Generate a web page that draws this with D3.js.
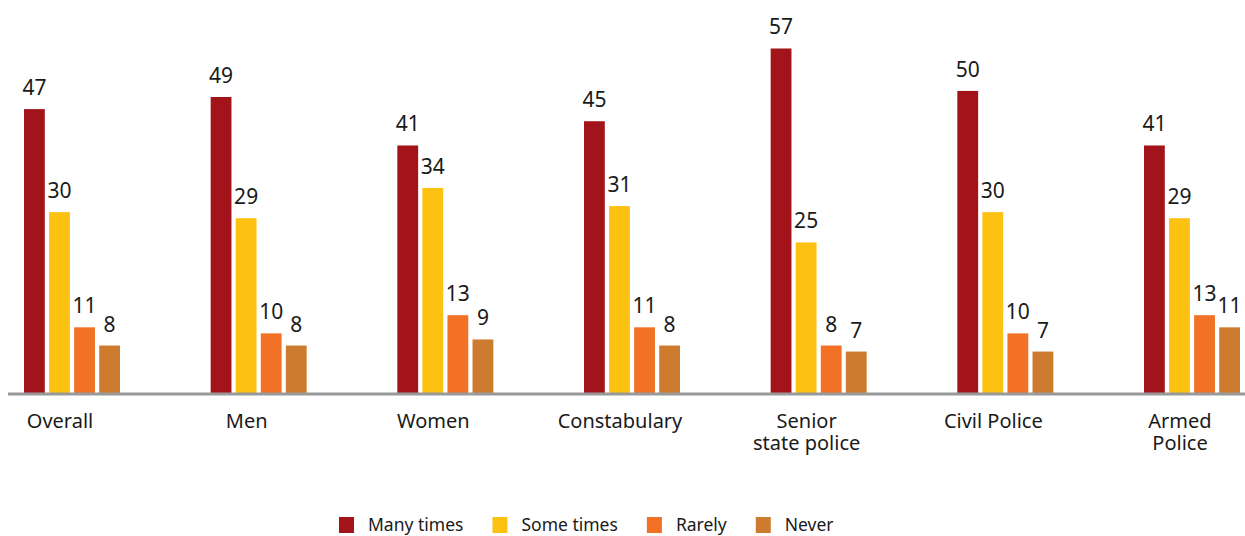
<!DOCTYPE html>
<html>
<head>
<meta charset="utf-8">
<script src="https://cdn.jsdelivr.net/npm/d3@7/dist/d3.min.js"></script>
<style>
  html, body { margin: 0; padding: 0; background: #fff; }
  svg { display: block; font-family: "Noto Sans", "DejaVu Sans", sans-serif; }
</style>
</head>
<body>
<svg id="chart" width="1245" height="536"></svg>
<script>
const categories = ["Overall", "Men", "Women", "Constabulary", "Senior\nstate police", "Civil Police", "Armed\nPolice"];
const seriesNames = ["Many times", "Some times", "Rarely", "Never"];
const manyTimes = [47, 49, 41, 45, 57, 50, 41];
const someTimes = [30, 29, 34, 31, 25, 30, 29];
const rarely    = [11, 10, 13, 11, 8, 10, 13];
const never     = [8, 8, 9, 8, 7, 7, 11];
const colors = ["#A3141A", "#FDC112", "#F27125", "#CD7C2F"];

const seriesValues = [manyTimes, someTimes, rarely, never];
const data = categories.map((c, i) => ({
  cat: c,
  values: seriesNames.map((s, j) => ({ series: s, value: seriesValues[j][i] }))
}));

const svg = d3.select("#chart");
const baseY = 394;

const x0 = d3.scalePoint().domain(categories).range([72, 1192]);
const x1 = d3.scaleBand().domain(seriesNames).range([-48, 48]).paddingInner(0.17);
const y = d3.scaleLinear().domain([0, 65]).range([baseY, 0]);
const color = d3.scaleOrdinal().domain(seriesNames).range(colors);

const groups = svg.append("g").selectAll("g")
  .data(data).join("g")
  .attr("transform", d => `translate(${x0(d.cat)},0)`);

groups.selectAll("rect")
  .data(d => d.values).join("rect")
  .attr("x", d => x1(d.series))
  .attr("width", x1.bandwidth())
  .attr("y", d => y(d.value))
  .attr("height", d => y(0) - y(d.value))
  .attr("fill", d => color(d.series));

groups.selectAll("text.val")
  .data(d => d.values).join("text")
  .attr("class", "val")
  .attr("x", d => x1(d.series) + x1.bandwidth() / 2)
  .attr("y", d => y(d.value) - 14)
  .attr("text-anchor", "middle")
  .attr("font-size", 21)
  .attr("fill", "#1a1a1a")
  .text(d => d.value);

// baseline
svg.append("line")
  .attr("x1", 8).attr("x2", 1245)
  .attr("y1", y(0)).attr("y2", y(0))
  .attr("stroke", "#999999")
  .attr("stroke-width", 3);

// category labels (one text element per line)
const catLines = [];
categories.forEach(c => c.split("\n").forEach((ln, i) => catLines.push({ cat: c, text: ln, line: i })));
svg.append("g").selectAll("text")
  .data(catLines).join("text")
  .attr("x", d => x0(d.cat) - 12)
  .attr("y", d => 428 + d.line * 22)
  .attr("text-anchor", "middle")
  .attr("font-size", 20)
  .attr("fill", "#1a1a1a")
  .text(d => d.text);

// legend
const legend = svg.append("g");
let lx = 339;
seriesNames.forEach((s, i) => {
  const g = legend.append("g").attr("transform", `translate(${lx},0)`);
  g.append("rect").attr("x", 0).attr("y", 517).attr("width", 15).attr("height", 16).attr("fill", color(s));
  const t = g.append("text").attr("x", 29).attr("y", 531)
    .attr("font-size", 17.5).attr("fill", "#1a1a1a").text(s);
  const w = t.node().getComputedTextLength();
  lx += 29 + w + 29;
});
</script>
</body>
</html>
